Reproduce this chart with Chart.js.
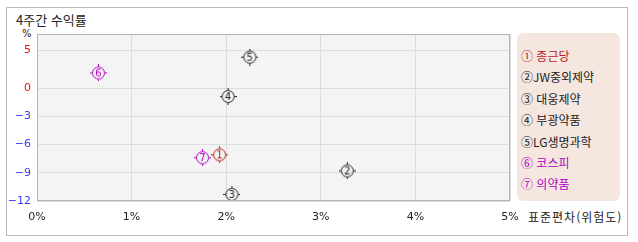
<!DOCTYPE html>
<html lang="ko">
<head>
  <meta charset="UTF-8">
  <title>4주간 수익률</title>
  <script src="https://cdn.jsdelivr.net/npm/chart.js"></script>
  <style>
    body { margin: 0; background: #fff; font-family: "Noto Sans CJK KR", sans-serif; }
    .wrap { position: relative; width: 638px; height: 242px; }
    .frame { position: absolute; left: 6px; top: 7px; width: 622px; height: 229px; box-sizing: border-box; border: 1px solid #bbb; }
    .title { position: absolute; left: 16px; top: 10px; font-size: 13px; color: #222; }
    .unit { position: absolute; left: 22px; top: 28px; font-size: 10px; color: #222; font-family: "DejaVu Sans", sans-serif; }
    .xtitle { position: absolute; left: 528px; top: 208px; font-size: 12px; color: #222; letter-spacing: 1px; }
    .legend { position: absolute; left: 517px; top: 33px; width: 103px; height: 168px; background: #f5e7e0; border-radius: 6px; box-sizing: border-box; padding: 12px 0 0 4px; }
    .legend div { font-size: 12px; height: 21.4px; line-height: 21.4px; white-space: nowrap; }
    canvas { position: absolute; left: 0; top: 0; }
  </style>
</head>
<body>
  <div class="wrap">
    <div class="frame"></div>
    <div class="title">4주간 수익률</div>
    <div class="unit">%</div>
    <div class="xtitle">표준편차(위험도)</div>
    <div class="legend" id="legend"></div>
    <canvas id="riskChart" width="638" height="242"></canvas>
  </div>

  <script>
    // data
    const marks = ['①', '②', '③', '④', '⑤', '⑥', '⑦'];
    const names = ['종근당', 'JW중외제약', '대웅제약', '부광약품', 'LG생명과학', '코스피', '의약품'];
    const gaps = [' ', '', ' ', ' ', '', ' ', ' '];
    const risk = [1.93, 3.28, 2.06, 2.02, 2.25, 0.65, 1.75];      // 표준편차 %
    const returns = [-7.1, -8.8, -11.3, -0.9, 4.1, 2.0, -7.4];    // 4주간 수익률 %
    const colors = ['#b81c1c', '#222222', '#222222', '#222222', '#222222', '#b000c0', '#b000c0'];
    const yTicks = [5, 0, -3, -6, -9, -12];
    const xTicks = [0, 1, 2, 3, 4, 5];

    // positive side of the y axis is drawn compressed in the original
    const POS_RATIO = 0.8;
    class SplitScale extends Chart.LinearScale {
      getPixelForValue(value) {
        return super.getPixelForValue(value > 0 ? value * POS_RATIO : value);
      }
      getValueForPixel(pixel) {
        const v = super.getValueForPixel(pixel);
        return v > 0 ? v / POS_RATIO : v;
      }
    }
    SplitScale.id = 'split';
    SplitScale.defaults = Chart.LinearScale.defaults;
    Chart.register(SplitScale);

    // circled-number marker with small ticks
    function makeMarker(num, color) {
      const c = document.createElement('canvas');
      c.width = 17; c.height = 17;
      const g = c.getContext('2d');
      g.strokeStyle = color;
      g.fillStyle = color;
      g.lineWidth = 1;
      g.beginPath();
      g.arc(8.5, 8.5, 6, 0, Math.PI * 2);
      g.stroke();
      g.fillRect(8, 0, 1, 2);
      g.fillRect(8, 15, 1, 2);
      g.fillRect(0, 8, 2, 1);
      g.fillRect(15, 8, 2, 1);
      g.font = '10px "DejaVu Sans"';
      g.textAlign = 'center';
      g.textBaseline = 'middle';
      g.fillText(String(num), 8.5, 9);
      return c;
    }

    const datasets = names.map((n, i) => ({
      label: n,
      data: [{ x: risk[i], y: returns[i] }],
      pointStyle: makeMarker(i + 1, colors[i]),
      pointRadius: 8,
      borderColor: colors[i]
    }));

    // html legend
    const legend = document.getElementById('legend');
    names.forEach((n, i) => {
      const d = document.createElement('div');
      d.textContent = marks[i] + gaps[i] + n;
      d.style.color = colors[i];
      legend.appendChild(d);
    });

    const plotBg = {
      id: 'plotBg',
      beforeDraw(chart) {
        const a = chart.chartArea;
        const ctx = chart.ctx;
        ctx.save();
        ctx.fillStyle = '#f4f4f4';
        ctx.fillRect(a.left, a.top, a.right - a.left, a.bottom - a.top);
        ctx.restore();
      },
      afterDatasetsDraw(chart) {
        const a = chart.chartArea;
        const ctx = chart.ctx;
        ctx.save();
        ctx.strokeStyle = '#b4b4b4';
        ctx.lineWidth = 1;
        ctx.strokeRect(Math.round(a.left) + 0.5, Math.round(a.top) + 0.5,
          Math.round(a.right - a.left) - 1, Math.round(a.bottom - a.top) - 1);
        ctx.restore();
      }
    };

    new Chart(document.getElementById('riskChart'), {
      type: 'scatter',
      data: { datasets },
      options: {
        responsive: false,
        animation: false,
        events: [],
        layout: { padding: { left: 0, top: 34, right: 128, bottom: 0 } },
        plugins: { legend: { display: false }, tooltip: { enabled: false } },
        scales: {
          x: {
            type: 'linear',
            min: 0,
            max: 5,
            afterFit(s) { s.height = 41; },
            afterBuildTicks(s) { s.ticks = xTicks.map(v => ({ value: v })); },
            grid: { color: '#dcdcdc', drawTicks: false },
            border: { display: false },
            ticks: {
              padding: 10,
              maxRotation: 0,
              color: '#222',
              font: { family: 'DejaVu Sans', size: 11 },
              callback: v => v + '%'
            }
          },
          y: {
            type: 'split',
            min: -12,
            max: 5.74,
            afterFit(s) { s.width = 37; },
            afterBuildTicks(s) { s.ticks = yTicks.map(v => ({ value: v })); },
            grid: { color: '#dcdcdc', drawTicks: false },
            border: { display: false },
            ticks: {
              padding: 6,
              font: { family: 'DejaVu Sans', size: 11 },
              color: ctx => (ctx.tick && ctx.tick.value < 0) ? '#3c3cf0' : '#f01010',
              callback: v => String(v).replace('-', '−')
            }
          }
        }
      },
      plugins: [plotBg]
    });
  </script>
</body>
</html>
